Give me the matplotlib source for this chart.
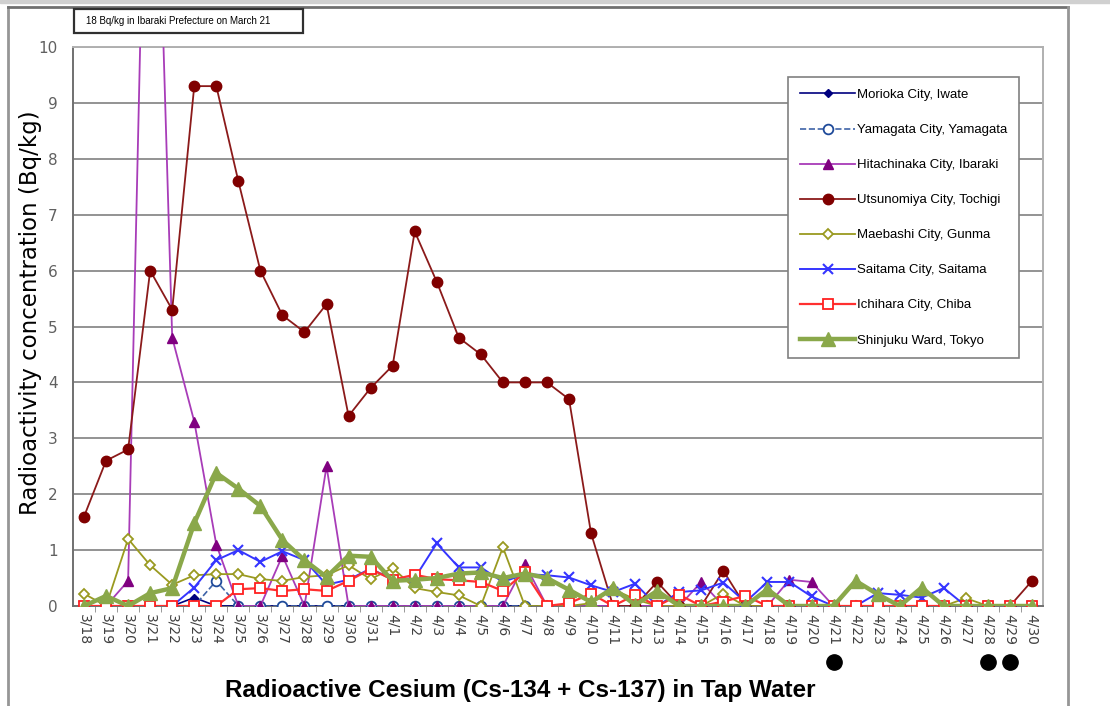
import matplotlib
matplotlib.use("Agg")
import matplotlib.pyplot as plt
from matplotlib.patches import Rectangle
from matplotlib.lines import Line2D

# dates 3/18 .. 4/30
dates = ["3/%d" % d for d in range(18, 32)] + ["4/%d" % d for d in range(1, 31)]

morioka = [0, 0, 0, 0, 0, 0.15, 0, 0, 0, 0, 0, 0, 0, 0,
           0, 0, 0, 0, 0, 0, 0, 0, 0, 0, 0, 0, 0, 0, 0, 0,
           0, 0, 0, 0, 0, 0, 0, 0, 0, 0, 0, 0, 0, 0]
yamagata = [0, 0, 0, 0, 0, 0, 0.45, 0, 0, 0, 0, 0, 0, 0,
            0, 0, 0, 0, 0, 0, 0, 0, 0, 0, 0, 0, 0, 0, 0, 0,
            0, 0, 0, 0, 0, 0, 0, 0, 0, 0, 0, 0, 0, 0]
hitachinaka = [0, 0, 0.45, 18, 4.8, 3.3, 1.1, 0, 0, 0.9, 0, 2.5, 0, 0,
               0, 0, 0, 0, 0, 0, 0.75, 0, 0, 0, 0, 0, 0, 0, 0.43, 0,
               0, 0, 0.47, 0.43, 0, 0, 0, 0, 0, 0, 0, 0, 0, 0]
utsunomiya = [1.6, 2.6, 2.8, 6.0, 5.3, 9.3, 9.3, 7.6, 6.0, 5.2, 4.9, 5.4, 3.4, 3.9,
              4.3, 6.7, 5.8, 4.8, 4.5, 4.0, 4.0, 4.0, 3.7, 1.3, 0, 0, 0.43, 0, 0, 0.63,
              0, 0, 0, 0, 0, 0, 0, 0, 0, 0, 0, 0, 0, 0.45]
maebashi = [0.22, 0, 1.2, 0.73, 0.38, 0.55, 0.57, 0.57, 0.48, 0.45, 0.52, 0.55, 0.73, 0.48,
            0.68, 0.32, 0.25, 0.19, 0, 1.05, 0, 0, 0, 0.05, 0.3, 0.12, 0, 0, 0, 0.22,
            0, 0, 0, 0, 0, 0, 0, 0, 0, 0, 0.14, 0, 0, 0]
saitama = [0, 0, 0, 0, 0, 0.33, 0.82, 1.0, 0.79, 0.98, 0.82, 0.38, 0.47, 0.67,
           0.47, 0.5, 1.12, 0.69, 0.69, 0.43, 0.57, 0.55, 0.51, 0.37, 0.25, 0.4, 0, 0.25, 0.28, 0.42,
           0.07, 0.43, 0.43, 0.17, 0, 0, 0.23, 0.2, 0.15, 0.32, 0, 0, 0, 0]
ichihara = [0, 0, 0, 0, 0, 0, 0, 0.3, 0.32, 0.27, 0.3, 0.27, 0.45, 0.66,
            0.47, 0.56, 0.48, 0.46, 0.43, 0.27, 0.6, 0, 0.05, 0.22, 0, 0.2, 0, 0.2, 0, 0.08,
            0.18, 0, 0, 0, 0, 0, 0, 0, 0, 0, 0, 0, 0, 0]
shinjuku = [0, 0.18, 0, 0.23, 0.32, 1.48, 2.38, 2.1, 1.79, 1.18, 0.82, 0.52, 0.9, 0.88,
            0.45, 0.47, 0.5, 0.58, 0.6, 0.5, 0.58, 0.5, 0.29, 0.07, 0.32, 0.02, 0.27, 0, 0, 0,
            0, 0.3, 0, 0, 0, 0.45, 0.21, 0, 0.33, 0, 0, 0, 0, 0]
marked_dates = ["4/21", "4/28", "4/29"]

x = list(range(len(dates)))
W, H = 1110, 706
narrow = ["Liberation Sans Narrow", "DejaVu Sans Condensed", "Liberation Sans", "DejaVu Sans"]

fig = plt.figure(figsize=(11.1, 7.06), dpi=100)
ax = fig.add_axes([73 / W, 1 - 606 / H, (1043 - 73) / W, (606 - 47) / H])

# outer chart frame
fig.patches.append(Rectangle((0, 1 - 3 / H), 1, 3 / H, transform=fig.transFigure,
                             color="#d0d0d0", zorder=0))
frame_col = "#969696"
fig.add_artist(Line2D([8 / W, 8 / W], [0, 1 - 7 / H], color=frame_col, lw=2,
                      transform=fig.transFigure))
fig.add_artist(Line2D([8 / W, 1068 / W], [1 - 7 / H, 1 - 7 / H], color="#707070",
                      lw=2, transform=fig.transFigure))
fig.add_artist(Line2D([1068 / W, 1068 / W], [0, 1 - 7 / H], color=frame_col, lw=2,
                      transform=fig.transFigure))

ax.plot(x, morioka, color="#00007f", lw=1.2, marker="D", ms=4.5, mfc="#00007f",
        mec="#00007f", label="Morioka City, Iwate", zorder=3)
ax.plot(x, yamagata, color="#3e63a8", lw=1.2, ls="--", marker="o", ms=7, mfc="white",
        mec="#1f4a9a", mew=1.3, label="Yamagata City, Yamagata", zorder=3)
ax.plot(x, hitachinaka, color="#a83cb8", lw=1.3, marker="^", ms=7, mfc="#800080",
        mec="#800080", label="Hitachinaka City, Ibaraki", zorder=4)
ax.plot(x, utsunomiya, color="#8b1a1a", lw=1.3, marker="o", ms=7.5, mfc="#800000",
        mec="#800000", label="Utsunomiya City, Tochigi", zorder=5)
ax.plot(x, maebashi, color="#9a9a20", lw=1.3, marker="D", ms=5.5, mfc="white",
        mec="#9a9a20", mew=1.3, label="Maebashi City, Gunma", zorder=6)
ax.plot(x, saitama, color="#3535ff", lw=1.4, marker="x", ms=7, mew=1.5,
        label="Saitama City, Saitama", zorder=7)
ax.plot(x, ichihara, color="#ff3030", lw=1.6, marker="s", ms=7, mfc="white",
        mec="#ff2020", mew=1.3, label="Ichihara City, Chiba", zorder=8)
ax.plot(x, shinjuku, color="#8aa84a", lw=3.2, marker="^", ms=10, mfc="#8aa84a",
        mec="#8aa84a", label="Shinjuku Ward, Tokyo", zorder=9)

ax.set_xlim(-0.5, len(dates) - 0.5)
ax.set_ylim(0, 10)
ax.set_yticks(range(0, 11))
ax.set_xticks(x)
ax.set_xticklabels(dates, rotation=-90, fontsize=10, color="#404040")
ax.set_xticks([i + 0.5 for i in x[:-1]], minor=True)
ax.tick_params(axis="x", which="major", length=0, pad=6)
ax.tick_params(axis="x", which="minor", length=4, color="#888888")
ax.tick_params(axis="y", length=0, labelsize=11, labelcolor="#606060", pad=11)
ax.grid(axis="y", color="#808080", lw=1.2)
ax.set_axisbelow(True)
for side in ["left", "bottom"]:
    ax.spines[side].set_color("#707070")
    ax.spines[side].set_linewidth(1.4)
for side in ["top", "right"]:
    ax.spines[side].set_color("#b0b0b0")
    ax.spines[side].set_linewidth(1.4)

fig.text(31 / W, 1 - 313 / H, "Radioactivity concentration (Bq/kg)", rotation=90,
         ha="center", va="center", fontsize=16.5, family=["DejaVu Sans"])
fig.text(520 / W, 1 - 690 / H, "Radioactive Cesium (Cs-134 + Cs-137) in Tap Water",
         ha="center", va="center", fontsize=17.5, fontweight="bold", family=narrow)

# black dots under some dates
for d in marked_dates:
    ax.plot(dates.index(d), -0.1, "o", color="black", ms=11,
            transform=ax.get_xaxis_transform(), clip_on=False)

fig.patches.append(Rectangle((74 / W, 1 - 33 / H), 229 / W, 24 / H, transform=fig.transFigure,
                             fc="white", ec="#303030", lw=1.6, zorder=5))
fig.text(86 / W, 1 - 21 / H, "18 Bq/kg in Ibaraki Prefecture on March 21",
         ha="left", va="center", fontsize=7, family=narrow, zorder=6)

leg = ax.legend(loc="upper left", bbox_to_anchor=(788 / W, 1 - 77 / H),
                bbox_transform=fig.transFigure, labelspacing=1.73,
                handlelength=4.2, handletextpad=0.1, borderpad=0.9, borderaxespad=0,
                frameon=True, fancybox=False, edgecolor="#808080", framealpha=1,
                prop={"family": narrow, "size": 9.5})
leg.get_frame().set_linewidth(1.2)
leg.set_zorder(20)

fig.savefig("out.png", dpi=100)
